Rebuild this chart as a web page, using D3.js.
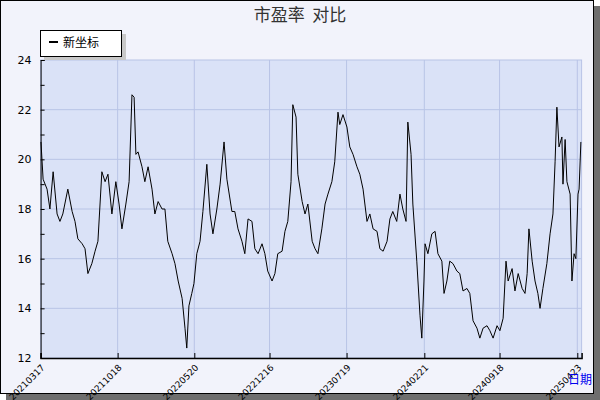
<!DOCTYPE html>
<html><head><meta charset="utf-8">
<script src="https://cdn.jsdelivr.net/npm/d3@7"></script>
<style>body{margin:0;background:#fff}</style></head>
<body><svg id="c" width="600" height="400"></svg>
<script>
const dayOffsets=[1,7,18,26,35,46,54,62,76,88,96,104,116,124,132,143,152,160,171,180,188,199,210,219,227,238,247,255,261,266,272,283,291,300,311,319,328,339,347,355,367,375,384,395,403,408,414,422,428,436,445,453,464,473,481,492,501,512,520,
534,542,551,562,570,579,590,598,607,618,626,634,646,654,662,674,682,690,699,704,713,718,730,738,746,758,766,774,785,794,802,813,821,830,835,844,855,863,872,883,891,900,911,919,928,939,947,956,967,975,983,994,1003,1011,1020,1025,1034,1039,1050,1059,1064,1070,
1073,1081,1092,1101,1109,1120,1126,1134,1142,1151,1162,1170,1179,1190,1198,1207,1218,1226,1235,1246,1254,1263,1274,1282,1291,1299,1305,1316,1324,1333,1344,1352,1358,1363,1372,1380,1388,1394,1402,1413,1422,1430,1436,1441,1447,1455,1458,1464,1469,1478,1483,1489,1494,1500,1503,1508];
const peValues=[20.7,19.2,18.8,18.0,19.5,17.8,17.5,17.8,18.8,17.9,17.5,16.8,16.6,16.4,15.4,15.8,16.3,16.7,19.5,19.1,19.4,17.8,19.1,18.2,17.2,18.2,19.1,22.6,22.5,20.2,20.3,19.7,19.1,19.7,18.8,17.8,18.3,18.0,18.0,16.7,16.2,15.8,15.1,14.4,13.2,12.4,14.1,14.6,15.0,16.2,16.7,17.9,19.8,17.8,17.0,18.0,19.0,20.7,19.2,
17.9,17.9,17.2,16.7,16.2,17.6,17.5,16.4,16.2,16.6,16.2,15.5,15.1,15.4,16.2,16.3,17.1,17.5,19.1,22.2,21.7,19.4,18.3,17.8,18.2,16.7,16.4,16.2,17.2,18.2,18.6,19.1,19.9,21.9,21.4,21.8,21.3,20.5,20.2,19.7,19.4,18.8,17.5,17.8,17.2,17.1,16.4,16.3,16.7,17.6,17.9,17.5,18.6,18.0,17.5,21.5,20.2,18.2,15.9,13.7,12.8,15.1,
16.6,16.2,17.0,17.1,16.2,15.9,14.6,15.1,15.9,15.8,15.5,15.4,14.7,14.8,14.6,13.5,13.2,12.8,13.2,13.3,13.1,12.8,13.3,13.1,13.6,15.9,15.1,15.6,14.7,15.4,14.8,14.6,15.4,17.2,15.9,15.1,14.6,14.0,14.8,15.8,17.0,17.8,19.9,22.1,20.5,20.9,19.0,20.8,19.1,18.6,15.1,16.2,16.0,18.6,18.8,20.7];
const tickDays=[0,215,429,639,854,1071,1281,1498];
const tickLabels=["20210317","20211018","20220520","20221216","20230719","20240221","20240918","20250423"];
const yTicks=[12,14,16,18,20,22,24];

const svg=d3.select("#c");
svg.append("rect").attr("x",6).attr("y",6).attr("width",594).attr("height",394).attr("fill","#6e6e6e");
svg.append("rect").attr("x",0.5).attr("y",0.5).attr("width",593).attr("height",393).attr("fill","#f2f3fb").attr("stroke","#000");
const L=40.6,R=581.6,T=60,B=358;
const x=d3.scaleLinear().domain([0,1510]).range([L,R]);
const y=d3.scaleLinear().domain([12,24]).range([B,T]);
svg.append("rect").attr("x",L).attr("y",T).attr("width",R-L).attr("height",B-T).attr("fill","#dae2f7").attr("stroke","#b8c4e6");
const g=svg.append("g");
g.selectAll(".gy").data(yTicks.slice(1,-1)).join("line").attr("x1",L).attr("x2",R).attr("y1",d=>y(d)).attr("y2",d=>y(d)).attr("stroke","#b8c4e6");
g.selectAll(".gx").data(tickDays.slice(1)).join("line").attr("y1",T).attr("y2",B).attr("x1",d=>x(d)).attr("x2",d=>x(d)).attr("stroke","#b8c4e6");
const pts=dayOffsets.map((d,i)=>[d,peValues[i]]);
svg.append("path").attr("d",d3.line().x(d=>x(d[0])).y(d=>y(d[1]))(pts)).attr("fill","none").attr("stroke","#000").attr("stroke-width",1);
const ya=svg.append("g").attr("transform",`translate(${L},0)`).call(d3.axisLeft(y).tickValues(d3.range(12,24.1,1)).tickSize(-4).tickFormat(d=>d%2===0?d:""));
ya.select(".domain").attr("stroke","#000");
ya.selectAll("text").attr("font-family","DejaVu Sans").attr("font-size",11).attr("fill","#000").attr("x",-9);
ya.selectAll(".tick line").attr("stroke","#000");
const xa=svg.append("g").attr("transform",`translate(0,${B})`).call(d3.axisBottom(x).tickValues(tickDays).tickSize(-5).tickFormat((d,i)=>tickLabels[i]));
xa.select(".domain").attr("stroke","#000").attr("stroke-width",1.5);
xa.selectAll(".tick line").attr("stroke","#000");
xa.selectAll("text").attr("font-family","DejaVu Sans").attr("font-size",9).attr("fill","#000")
 .attr("text-anchor","end").attr("dy","0.35em").attr("transform","translate(2,8) rotate(-45)").attr("y",0).attr("x",0);
svg.append("text").attr("x",300).attr("y",21).attr("text-anchor","middle").attr("font-family","Noto Sans CJK SC").attr("font-size",17).attr("fill","#333").text("市盈率\u00a0\u00a0对比");
svg.append("text").attr("x",580).attr("y",384).attr("text-anchor","middle").attr("font-family","Noto Sans CJK SC").attr("font-size",12).attr("fill","#0000ee").text("日期");
svg.append("rect").attr("x",44).attr("y",34).attr("width",82).attr("height",26).attr("fill","#c8c8c8");
svg.append("rect").attr("x",40.5).attr("y",30.5).attr("width",81).attr("height",26).attr("fill","#fff").attr("stroke","#000");
svg.append("line").attr("x1",49).attr("x2",58).attr("y1",42).attr("y2",42).attr("stroke","#000").attr("stroke-width",2);
svg.append("text").attr("x",63).attr("y",47).attr("font-family","Noto Sans CJK SC").attr("font-size",12).attr("fill","#000").text("新坐标");
</script></body></html>
